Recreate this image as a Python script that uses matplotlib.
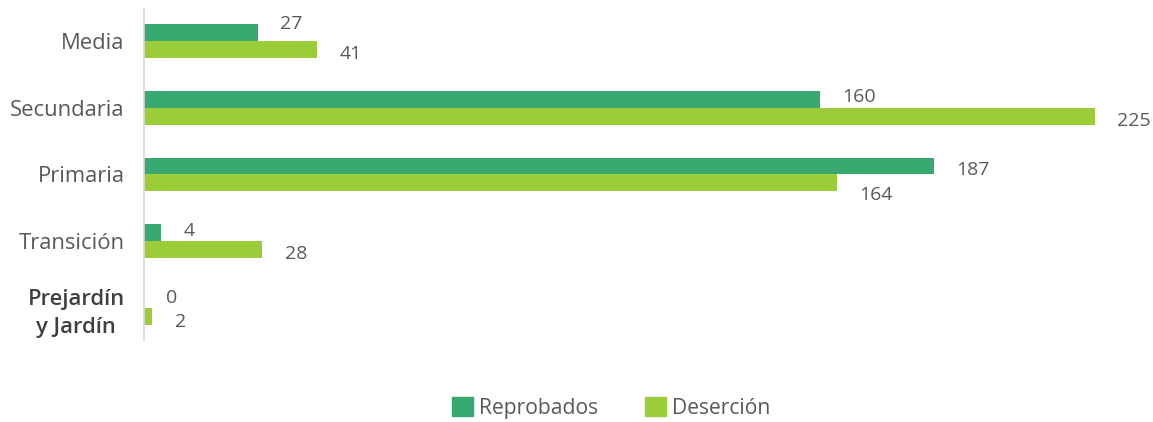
import matplotlib
matplotlib.use("Agg")
import matplotlib.pyplot as plt
from matplotlib.patches import Patch
import numpy as np

categories = ["Prejardín\ny Jardín", "Transición", "Primaria", "Secundaria", "Media"]
reprobados = [0, 4, 187, 160, 27]
desercion = [2, 28, 164, 225, 41]
series_names = ["Reprobados", "Deserción"]
colors = ["#38A96F", "#9ACD37"]

plt.rcParams['font.family'] = ['Open Sans', 'DejaVu Sans']

W, H = 1153, 422
fig = plt.figure(figsize=(W / 100, H / 100), dpi=100)
ax = fig.add_axes([144 / W, 1 - 341 / H, (1153 - 144) / W, (341 - 8) / H])

y = np.arange(len(categories))
h = 0.255
ax.barh(y + h / 2, reprobados, height=h, color=colors[0])
ax.barh(y - h / 2, desercion, height=h, color=colors[1])

ax.set_xlim(0, 1009 / (951 / 225))
ax.set_ylim(-0.5, len(categories) - 0.5)

# label vertical nudges (points) to mimic overlap avoidance
rep_dy = [1, 1, -3, 2, 6]
des_dy = [-4, -3, -9, -3, -3]
for i in range(len(categories)):
    ax.annotate(str(reprobados[i]), (reprobados[i], y[i] + h / 2), xytext=(16, rep_dy[i]),
                textcoords="offset points", va="center", ha="left", fontsize=14, color="#595959")
    ax.annotate(str(desercion[i]), (desercion[i], y[i] - h / 2), xytext=(16, des_dy[i]),
                textcoords="offset points", va="center", ha="left", fontsize=14, color="#595959")

ax.set_yticks(y)
ax.set_yticklabels(categories, fontsize=15.8, color="#595959")
lbl = ax.get_yticklabels()[0]
lbl.set_fontweight("semibold")
lbl.set_color("#404040")
lbl.set_linespacing(1.4)
lbl.set_multialignment("center")
ax.tick_params(axis="y", length=0, pad=14)
ax.set_xticks([])
for s in ["top", "right", "bottom"]:
    ax.spines[s].set_visible(False)
ax.spines["left"].set_color("#D9D9D9")
ax.spines["left"].set_linewidth(1.2)

handles = [Patch(color=c) for c in colors]
fig.legend(handles, series_names, loc="center", bbox_to_anchor=(0.53, 1 - 408 / H), ncol=2,
           frameon=False, fontsize=15.2, labelcolor="#595959", handlelength=1.0, handleheight=1.0,
           handletextpad=0.3, columnspacing=2.2)

fig.savefig("out.png", dpi=100)
